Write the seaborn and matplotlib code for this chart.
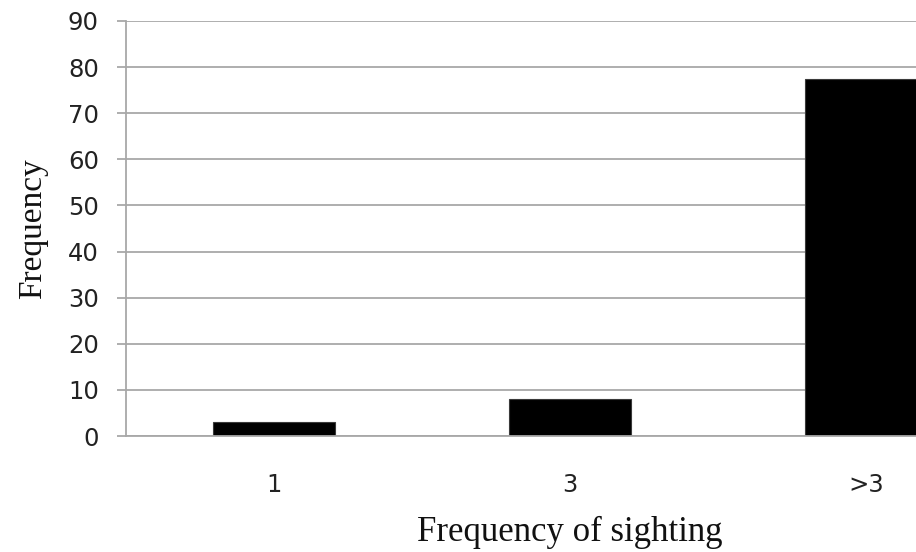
import pandas as pd
import seaborn as sns
import matplotlib.pyplot as plt

# Data
categories = ['1', '3', '>3']
counts = [3, 8, 77.5]

df = pd.DataFrame({'sighting': categories, 'frequency': counts})

sns.set_theme(style='white')
plt.rcParams['font.family'] = ['DejaVu Sans']

fig = plt.figure(figsize=(9.16, 5.52), dpi=100)
# the plot area runs past the right edge of the picture, as in the reference
ax = fig.add_axes([126 / 916, 116 / 552, 888 / 916, 415 / 552])

sns.barplot(data=df, x='sighting', y='frequency', color='black', saturation=1,
            width=0.41, edgecolor='#3a3a3a', linewidth=0.8, ax=ax)

ax.set_ylim(0, 90)
ax.set_yticks(range(0, 91, 10))
ax.set_axisbelow(True)
ax.yaxis.grid(True, color='#a8a8a8', linewidth=1.3)
ax.xaxis.grid(False)

for side in ['top', 'right']:
    ax.spines[side].set_visible(False)
ax.spines['left'].set_color('#a8a8a8')
ax.spines['bottom'].set_color('#a8a8a8')
ax.spines['left'].set_linewidth(1.3)
ax.spines['bottom'].set_linewidth(1.3)

ax.tick_params(axis='y', left=True, length=6.5, width=1.3, color='#a8a8a8',
               pad=13, labelsize=17.5, labelcolor='#222222')
ax.tick_params(axis='x', bottom=False, pad=21, labelsize=17.5, labelcolor='#222222')

ax.set_xlabel('Frequency of sighting', family='Liberation Serif', fontsize=25,
              labelpad=13, color='#111111')
ax.set_ylabel('Frequency', family='Liberation Serif', fontsize=24,
              labelpad=14, color='#111111')

fig.savefig('out.png', dpi=100)
